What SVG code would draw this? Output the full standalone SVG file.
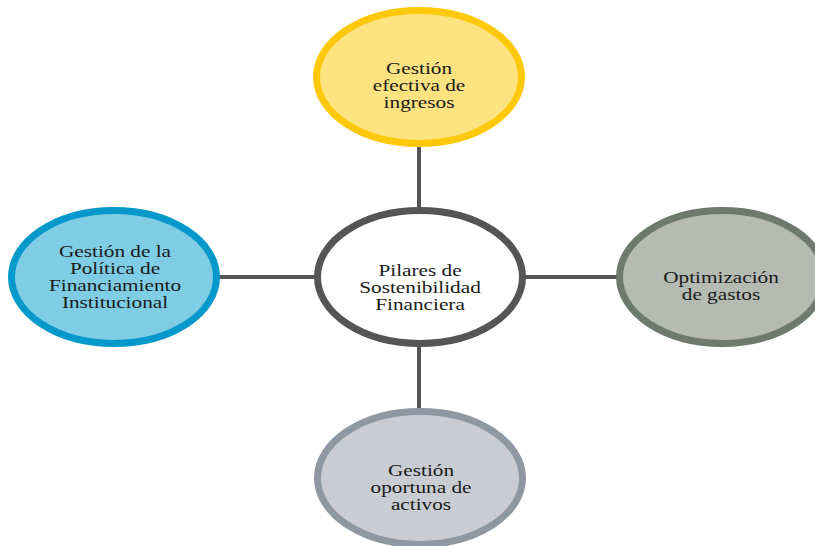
<svg xmlns="http://www.w3.org/2000/svg" width="815" height="546" viewBox="0 0 815 546">
<style>
  .conn { stroke: #555555; stroke-width: 4; fill: none; }
  .node { stroke-width: 7; }
  .lbl { font-family: "Liberation Serif", "Times New Roman", serif; font-size: 17px; fill: #1a1a1a; text-anchor: middle; }
</style>
<rect width="815" height="546" fill="#ffffff"/>
<g id="connectors">
  <line class="conn" x1="419" y1="144" x2="419" y2="212"/>
  <line class="conn" x1="217" y1="277" x2="319" y2="277"/>
  <line class="conn" x1="521" y1="277" x2="622" y2="277"/>
  <line class="conn" x1="419" y1="342" x2="419" y2="413"/>
</g>
<g id="node-center">
  <ellipse class="node" cx="420" cy="277" rx="102.5" ry="66.5" fill="#ffffff" stroke="#555555"/>
  <text class="lbl" transform="translate(420 0) scale(1.25 1)"><tspan x="0" y="276">Pilares de</tspan><tspan x="0" y="293">Sostenibilidad</tspan><tspan x="0" y="310">Financiera</tspan></text>
</g>
<g id="node-top">
  <ellipse class="node" cx="419" cy="77" rx="102.5" ry="66.5" fill="#FFE380" stroke="#FFC80A"/>
  <text class="lbl" transform="translate(419 0) scale(1.25 1)"><tspan x="0" y="74">Gestión</tspan><tspan x="0" y="91">efectiva de</tspan><tspan x="0" y="108">ingresos</tspan></text>
</g>
<g id="node-left">
  <ellipse class="node" cx="114" cy="277" rx="102.5" ry="66.5" fill="#7FCCE5" stroke="#0598CB"/>
  <text class="lbl" transform="translate(115 0) scale(1.25 1)"><tspan x="0" y="257">Gestión de la</tspan><tspan x="0" y="274">Política de</tspan><tspan x="0" y="291">Financiamiento</tspan><tspan x="0" y="308">Institucional</tspan></text>
</g>
<g id="node-right">
  <ellipse class="node" cx="722" cy="277" rx="102.5" ry="66.5" fill="#B5BAB2" stroke="#6E7A6E"/>
  <text class="lbl" transform="translate(721 0) scale(1.25 1)"><tspan x="0" y="283">Optimización</tspan><tspan x="0" y="300">de gastos</tspan></text>
</g>
<g id="node-bottom">
  <ellipse class="node" cx="420" cy="478" rx="102.5" ry="66.5" fill="#C9CDD3" stroke="#8E98A3"/>
  <text class="lbl" transform="translate(421 0) scale(1.25 1)"><tspan x="0" y="476">Gestión</tspan><tspan x="0" y="493">oportuna de</tspan><tspan x="0" y="510">activos</tspan></text>
</g>
</svg>
